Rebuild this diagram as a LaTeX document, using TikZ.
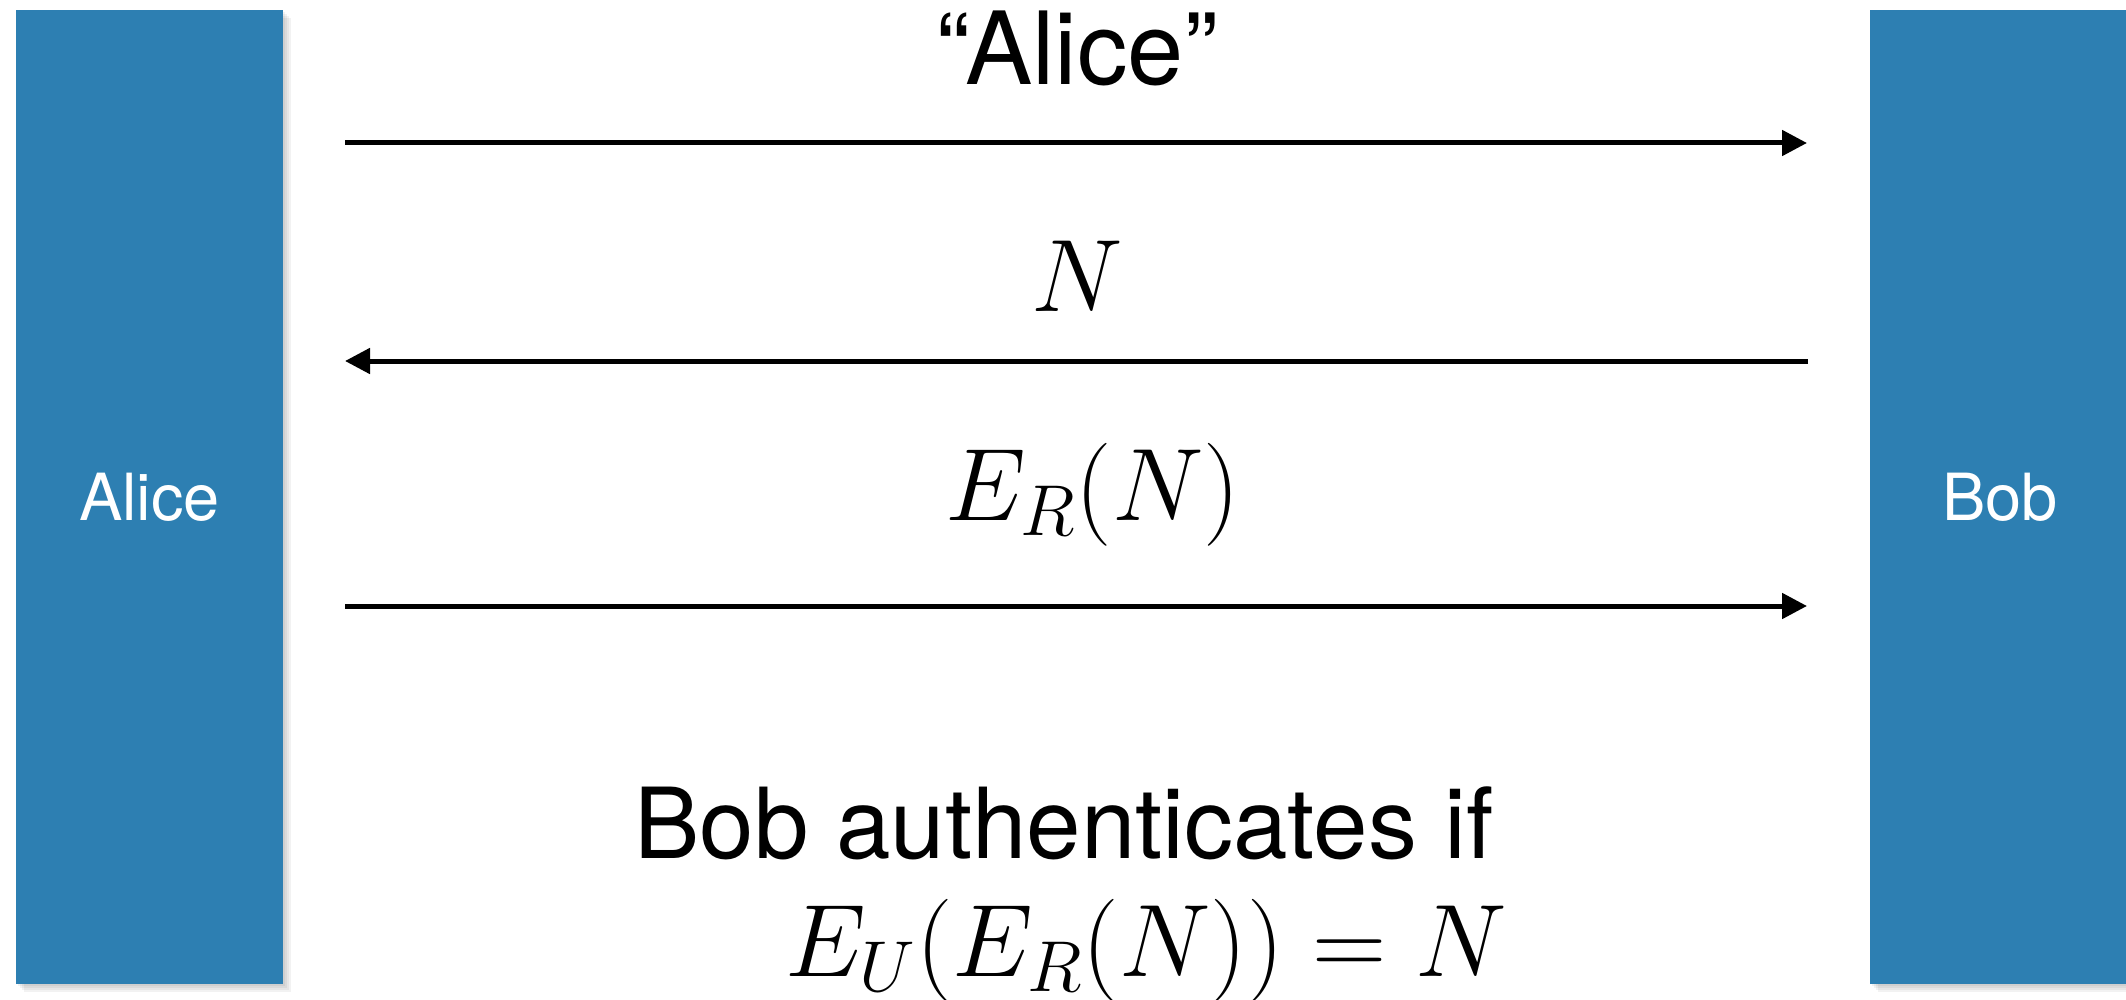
\RequirePackage{fix-cm}
\documentclass[tikz,border=0pt]{standalone}
\usepackage[no-math]{fontspec}
\setmainfont{TeX Gyre Heros}
\usetikzlibrary{arrows.meta}
\definecolor{barblue}{RGB}{45,127,178}
\begin{document}
\begin{tikzpicture}[x=0.5pt,y=-0.5pt,
  party/.style={fill=barblue, draw=none, inner sep=0pt, text=white,
    minimum height=487pt, font=\fontsize{32.5}{39}\selectfont},
  msg/.style={line width=2.5pt, -{Triangle[length=12.5pt,width=12.5pt]}},
  txtlbl/.style={anchor=base, inner sep=0pt, font=\fontsize{50.5}{60}\selectfont},
  authlbl/.style={anchor=base, inner sep=0pt, font=\fontsize{49}{59}\selectfont},
  mathlbl/.style={anchor=base, inner sep=0pt, font=\fontsize{51.5}{62}\selectfont},
  shade/.style={fill=black, opacity=0.05}
]
\useasboundingbox (0,0) rectangle (2126,1000);
% soft shadows
\foreach \k in {2,4,6,8}{
  \fill[shade] (16+\k,10+\k) rectangle (283+\k,984+\k);
  \fill[shade] (1870+\k,10+\k) rectangle (2130,984+\k);
}
\node[party, minimum width=133.5pt] (alice) at (149.5,497) {Alice};
\node[party, minimum width=130pt] (bob) at (2000,497) {Bob};

\coordinate (m1s) at (345,143);
\coordinate (m1e) at (1807,143);
\coordinate (m2s) at (1808,361);
\coordinate (m2e) at (345,361);
\coordinate (m3s) at (345,606);
\coordinate (m3e) at (1807,606);
\draw[msg] (m1s) -- (m1e);
\draw[msg] (m2s) -- (m2e);
\draw[msg] (m3s) -- (m3e);

\node[txtlbl] (quote) at (1077,85) {“Alice”};
\node[mathlbl] (nonce) at (1077,312) {$N$};
\node[mathlbl] (enc) at (1093,520) {$E_R(N)$};
\node[authlbl] (auth) at (1064,858) {Bob authenticates if};
\node[mathlbl] (eq) at (1146,976) {$E_U(E_R(N)) = N$};
\end{tikzpicture}
\end{document}
